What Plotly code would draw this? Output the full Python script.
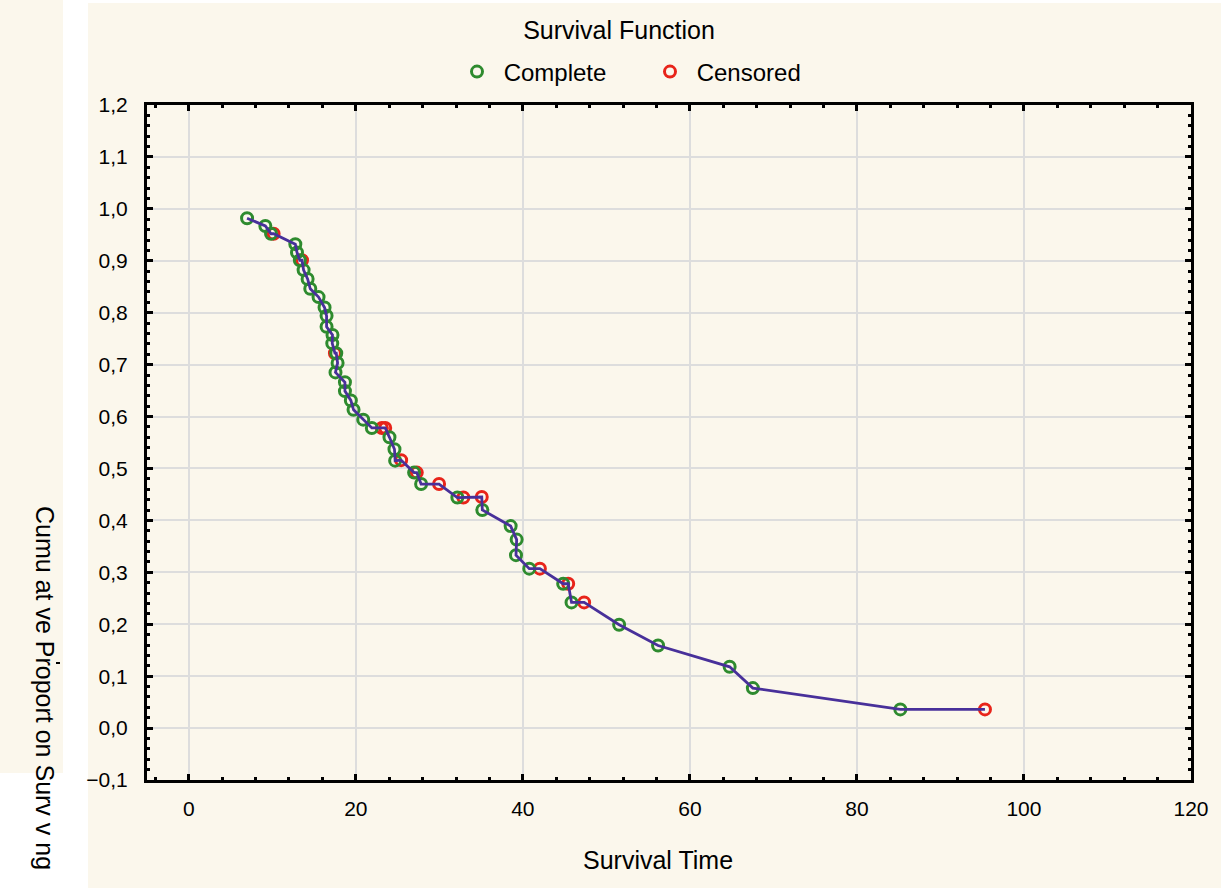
import plotly.graph_objects as go

# ---- data ----
time_all = [6.98, 9.17, 9.85, 10.16, 12.76, 12.96, 13.3, 13.56, 13.75, 14.23, 14.55, 15.54, 16.26, 16.5,
            16.5, 17.21, 17.18, 17.5, 17.66, 17.82, 17.57, 18.7, 18.7, 19.41, 19.73, 20.89, 21.92,
            23.12, 23.52, 24.03, 24.63, 24.71, 25.43, 26.98, 27.3, 27.82, 29.97, 32.16, 32.88,
            35.08, 35.15, 38.54, 39.26, 39.18, 40.77, 42.04, 44.83, 45.43, 45.83, 47.34, 51.53,
            56.19, 64.76, 67.54, 85.2, 95.33]
surv_all = [0.982, 0.967, 0.952, 0.952, 0.932, 0.916, 0.901, 0.901, 0.882, 0.865, 0.846, 0.830, 0.810, 0.794,
            0.773, 0.757, 0.741, 0.722, 0.722, 0.703, 0.685, 0.666, 0.649, 0.631, 0.613, 0.594, 0.578,
            0.578, 0.578, 0.560, 0.537, 0.515, 0.516, 0.492, 0.492, 0.470, 0.470, 0.444, 0.444,
            0.445, 0.420, 0.389, 0.363, 0.333, 0.307, 0.307, 0.278, 0.278, 0.242, 0.242, 0.199,
            0.159, 0.118, 0.077, 0.036, 0.036]
status_all = ["C", "C", "C", "R", "C", "C", "C", "R", "C", "C", "C", "C", "C", "C",
              "C", "C", "C", "R", "C", "C", "C", "C", "C", "C", "C", "C", "C",
              "R", "R", "C", "C", "C", "R", "C", "R", "C", "R", "C", "R",
              "R", "C", "C", "C", "C", "C", "R", "C", "R", "C", "R", "C",
              "C", "C", "C", "C", "R"]

complete_t = [t for t, s in zip(time_all, status_all) if s == "C"]
complete_p = [p for p, s in zip(surv_all, status_all) if s == "C"]
censored_t = [t for t, s in zip(time_all, status_all) if s == "R"]
censored_p = [p for p, s in zip(surv_all, status_all) if s == "R"]

x_ticks = [0, 20, 40, 60, 80, 100, 120]
y_ticks = [-0.1, 0.0, 0.1, 0.2, 0.3, 0.4, 0.5, 0.6, 0.7, 0.8, 0.9, 1.0, 1.1, 1.2]

CREAM = "#FBF7EC"
GREEN = "#2E8B2E"
RED = "#E8241A"
LINE = "#48309A"
FONT = "Liberation Sans, Arial, sans-serif"

# figure geometry in pixels
W, H = 1221, 888
L, R, T, B = 147, 30, 105, 108
PW, PH = W - L - R, H - T - B


def px_x(px):
    return (px - L) / PW


def px_y(py):
    return (H - B - py) / PH


fig = go.Figure()

fig.add_trace(go.Scatter(
    x=censored_t, y=censored_p, mode="markers", name=" Censored",
    marker=dict(symbol="circle-open", size=11, color=RED, line=dict(width=3, color=RED)),
))
fig.add_trace(go.Scatter(
    x=complete_t, y=complete_p, mode="markers", name=" Complete",
    marker=dict(symbol="circle-open", size=11, color=GREEN, line=dict(width=3, color=GREEN)),
))
fig.add_trace(go.Scatter(
    x=time_all, y=surv_all, mode="lines", showlegend=False,
    line=dict(color=LINE, width=2.8),
))

axis_common = dict(
    showline=True, linecolor="black", linewidth=3, mirror="ticks",
    ticks="inside", ticklen=6, tickwidth=2.5, tickcolor="black",
    showgrid=True, gridcolor="#DDDDDD", gridwidth=1.5, zeroline=False,
    tickfont=dict(family=FONT, size=21, color="black"),
)

fig.update_layout(
    width=W, height=H,
    margin=dict(l=L, r=R, t=T, b=B, autoexpand=False),
    paper_bgcolor="white", plot_bgcolor="white",
    separators=", ",
    font=dict(family=FONT, color="black"),
    title=dict(text="Survival Function", x=px_x(619), xanchor="center", xref="paper",
               y=1 - 30 / H, yanchor="middle", font=dict(family=FONT, size=25, color="black")),
    legend=dict(orientation="h", x=px_x(457), xanchor="left", y=px_y(72), yanchor="middle",
                bgcolor="rgba(0,0,0,0)", font=dict(family=FONT, size=24, color="black"),
                traceorder="reversed", entrywidth=148, entrywidthmode="pixels"),
    xaxis=dict(range=[-5, 120], tickvals=x_ticks, ticktext=[str(v) for v in x_ticks],
               minor=dict(dtick=4, tick0=0, ticks="inside", ticklen=3, tickwidth=2.5,
                          tickcolor="black", showgrid=False),
               ticklabelstandoff=8,
               **axis_common),
    yaxis=dict(range=[-0.1, 1.2], tickvals=y_ticks, tickformat=".1f",
               minor=dict(dtick=0.02, tick0=0, ticks="inside", ticklen=3, tickwidth=2.5,
                          tickcolor="black", showgrid=False),
               ticklabelstandoff=12,
               **axis_common),
    shapes=[
        dict(type="rect", xref="paper", yref="paper", layer="below", line=dict(width=0),
             fillcolor=CREAM, x0=px_x(0), x1=px_x(63), y0=px_y(773), y1=px_y(0)),
        dict(type="rect", xref="paper", yref="paper", layer="below", line=dict(width=0),
             fillcolor=CREAM, x0=px_x(88), x1=px_x(W), y0=px_y(H), y1=px_y(3)),
        dict(type="line", xref="paper", yref="paper", line=dict(width=2, color="black"),
             x0=px_x(56), x1=px_x(60), y0=px_y(663), y1=px_y(663)),
    ],
    annotations=[
        dict(text="Survival Time", showarrow=False,
             xref="paper", yref="paper", x=px_x(658), y=px_y(860), xanchor="center", yanchor="middle",
             font=dict(family=FONT, size=25, color="black")),
        dict(text="Cumu at ve Proport on Surv v ng", textangle=90, showarrow=False,
             xref="paper", yref="paper", x=px_x(45), y=px_y(688), xanchor="center", yanchor="middle",
             font=dict(family="Liberation Sans Narrow, Arial Narrow, Liberation Sans, sans-serif",
                       size=25, color="black")),
    ],
)

fig.write_html("out.html", config={"displayModeBar": False},
               post_script="document.body.style.margin='0';document.body.style.overflow='hidden';")
